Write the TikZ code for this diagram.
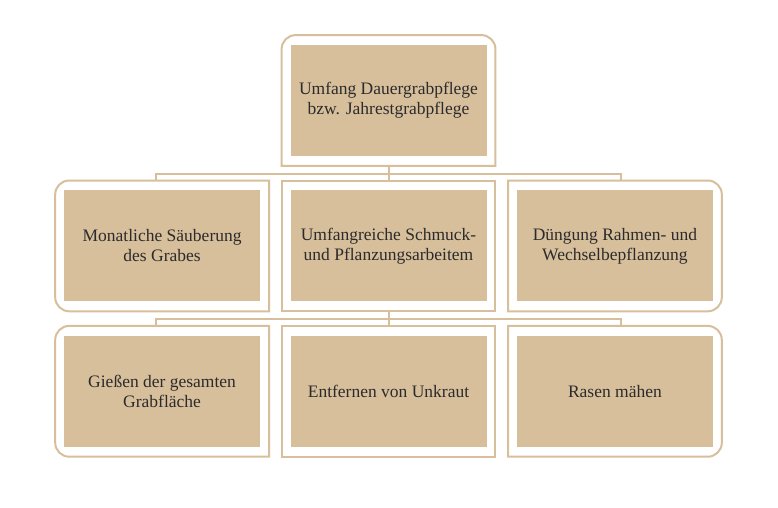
\documentclass[tikz,border=0pt]{standalone}
\usepackage{fontspec}
\setmainfont{Liberation Serif}
\usetikzlibrary{positioning,fit}
\definecolor{sand}{HTML}{D8BF9C}
\definecolor{ink}{HTML}{2B2B2B}

\begin{document}
\begin{tikzpicture}[
    node distance=34pt and 30pt,
    feld/.style={rectangle, fill=sand, text=ink, inner sep=0pt,
                 minimum width=196pt, minimum height=111pt, align=center,
                 font=\fontsize{17.5}{20}\selectfont},
    rahmen/.style={rectangle, inner xsep=8.5pt, inner ysep=9.5pt, draw=none},
    linie/.style={draw=sand, line width=2pt},
    ast/.style={draw=sand, line width=2pt},
]
\useasboundingbox (0,0) rectangle (778pt,507pt);

\node[feld] (umfang) at (388.5pt,406.5pt) {Umfang Dauergrabpflege\\bzw. Jahrestgrabpflege};
\node[feld,below=of umfang] (schmuck) {Umfangreiche Schmuck-\\und Pflanzungsarbeitem};
\node[feld,left=of schmuck] (saeuberung) {Monatliche Säuberung\\des Grabes};
\node[feld,right=of schmuck] (duengung) {Düngung Rahmen- und\\Wechselbepflanzung};
\node[feld,below=of saeuberung] (giessen) {Gießen der gesamten\\Grabfläche};
\node[feld,below=of schmuck] (unkraut) {Entfernen von Unkraut};
\node[feld,below=of duengung] (rasen) {Rasen mähen};

\foreach \n in {umfang,schmuck,saeuberung,duengung,giessen,unkraut,rasen}
  \node[rahmen,fit=(\n)] (\n-r) {};

% frames
\draw[linie] (umfang-r.south west) [rounded corners=14pt] -- (umfang-r.north west) -- (umfang-r.north east) [sharp corners] -- (umfang-r.south east) -- cycle;
\draw[linie] (saeuberung-r.south east) [rounded corners=14pt] -- (saeuberung-r.south west) -- (saeuberung-r.north west) [sharp corners] -- (saeuberung-r.north east) -- cycle;
\draw[linie] (schmuck-r.south west) rectangle (schmuck-r.north east);
\draw[linie] (duengung-r.north west) [rounded corners=14pt] -- (duengung-r.north east) -- (duengung-r.south east) [sharp corners] -- (duengung-r.south west) -- cycle;
\draw[linie] (giessen-r.south east) [rounded corners=14pt] -- (giessen-r.south west) -- (giessen-r.north west) [sharp corners] -- (giessen-r.north east) -- cycle;
\draw[linie] (unkraut-r.south west) rectangle (unkraut-r.north east);
\draw[linie] (rasen-r.north west) [rounded corners=14pt] -- (rasen-r.north east) -- (rasen-r.south east) [sharp corners] -- (rasen-r.south west) -- cycle;

% connectors
\draw[ast] (umfang-r.south) -- ++(0,-8pt) -| ([xshift=-6pt]saeuberung-r.north);
\draw[ast] (umfang-r.south) -- ++(0,-8pt) -| ([xshift=6pt]duengung-r.north);
\draw[ast] (umfang-r.south) -- (schmuck-r.north);
\draw[ast] (schmuck-r.south) -- ++(0,-8pt) -| ([xshift=-6pt]giessen-r.north);
\draw[ast] (schmuck-r.south) -- ++(0,-8pt) -| ([xshift=6pt]rasen-r.north);
\draw[ast] (schmuck-r.south) -- (unkraut-r.north);
\end{tikzpicture}
\end{document}
